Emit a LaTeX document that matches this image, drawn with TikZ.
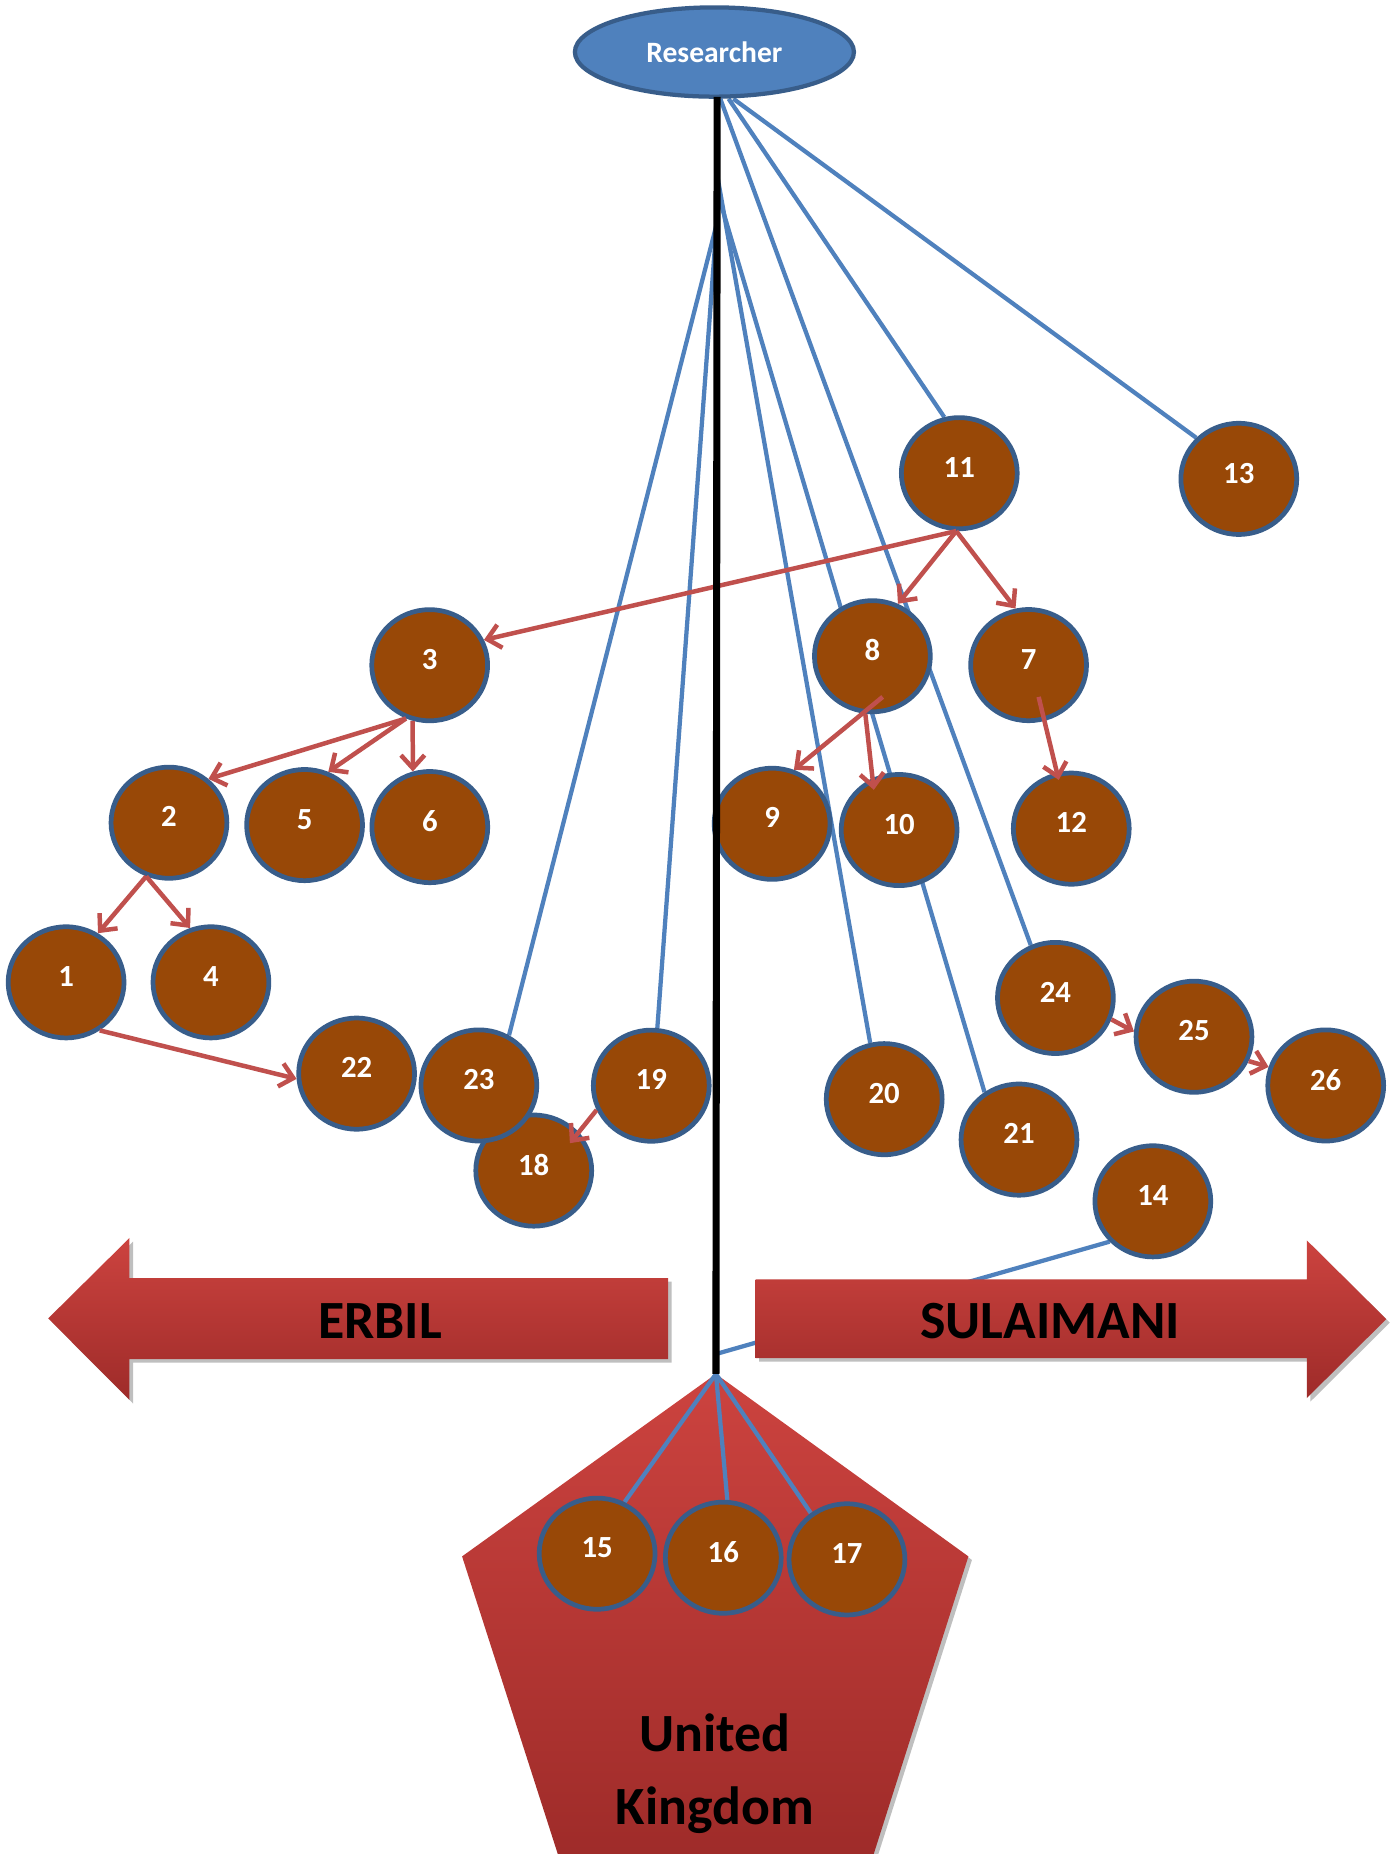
\documentclass[tikz,border=0pt]{standalone}
\usepackage{fontspec}
\setmainfont{Carlito}
\usetikzlibrary{arrows.meta,calc,shapes.geometric,shadows}
\definecolor{nodefill}{HTML}{984807}
\definecolor{nodeedge}{HTML}{385D8A}
\definecolor{bline}{HTML}{4F81BD}
\definecolor{rline}{HTML}{C0504D}
\definecolor{redtop}{HTML}{CC433F}
\definecolor{redbot}{HTML}{9E2B29}
\pgfdeclarelayer{lone}
\pgfdeclarelayer{ltwo}
\pgfdeclarelayer{lthree}
\pgfdeclarelayer{front}
\pgfsetlayers{lone,ltwo,lthree,main,front}
\begin{document}
\begin{tikzpicture}[x=1pt,y=-1pt,
  person/.style={ellipse, draw=nodeedge, fill=nodefill, line width=4pt,
    minimum width=98pt, minimum height=94pt, inner sep=0pt, text=white,
    font=\fontsize{26}{26}\selectfont\bfseries, text depth=10pt},
  link/.style={draw=bline, line width=3.6pt},
  refer/.style={draw=rline, line width=3.8pt, -{Straight Barb[length=11pt,width=20pt]}},
  place/.style={font=\fontsize{45.5}{62}\selectfont\bfseries, text=black, inner sep=0pt},
  region/.style={top color=redtop, bottom color=redbot,
    drop shadow={shadow xshift=3pt, shadow yshift=-3pt, opacity=0.25, fill=black}},
  ]
\useasboundingbox (0,0) rectangle (1183,1568);

% root
\node[ellipse, draw=nodeedge, fill=bline, line width=3.6pt, minimum width=236pt,
  minimum height=75.5pt, inner sep=0pt, text=white,
  font=\fontsize{25}{25}\selectfont\bfseries] (R) at (604.2,44) {Researcher};

% participants
\node[person] (n1)  at (55.9,830.8)   {1};
\node[person] (n2)  at (142.9,695.8)  {2};
\node[person] (n3)  at (363.4,562.6)  {3};
\node[person] (n4)  at (178.4,830.8)  {4};
\node[person] (n5)  at (257.6,697.8)  {5};
\node[person] (n6)  at (363.5,699.5)  {6};
\node[person] (n7)  at (869.9,562.5)  {7};
\node[person] (n8)  at (737.8,555)    {8};
\node[person] (n9)  at (653,696.7)    {9};
\node[person] (n10) at (760.4,702)    {10};
\node[person] (n11) at (811.3,400.2)  {11};
\node[person] (n12) at (906,700.8)    {12};
\node[person] (n13) at (1047.7,405)   {13};
\node[person] (n14) at (975,1016)     {14};
\node[person] (n15) at (505,1314)     {15};
\node[person] (n16) at (611.7,1317.4) {16};
\node[person] (n17) at (716.3,1318.8) {17};
\node[person] (n18) at (451.4,990)    {18};
\node[person] (n19) at (550.8,918.2)  {19};
\node[person] (n20) at (747.8,929.6)  {20};
\node[person] (n21) at (861.8,963.8)  {21};
\node[person] (n22) at (301.6,908)    {22};
\node[person] (n23) at (405,918)      {23};
\node[person] (n24) at (892.6,844)    {24};
\node[person] (n25) at (1009.8,876.8) {25};
\node[person] (n26) at (1121.2,918)   {26};

% trunk coordinates
\coordinate (top)  at (606.5,82);
\coordinate (apex) at (605.5,1162);
\coordinate (s23)  at (606,190);
\coordinate (s20)  at (606,145);
\coordinate (s21)  at (606,160);
\coordinate (j14)  at (606,1145);

% city labels
\node[place] (erbil) at (321.5,1117.5) {ERBIL};
\node[place] (sul)   at (888,1117.5)   {SULAIMANI};
\node[place, align=center] (uk) at (604.5,1500) {United\\Kingdom};

\begin{pgfonlayer}{lone}
  \fill[white] (0,0) rectangle (1183,1568);
  \draw[link] (n14.223) -- (j14);
\end{pgfonlayer}

\begin{pgfonlayer}{ltwo}
  \shade[region] (40.8,1115) -- (109.5,1047) -- (109.5,1081) -- (565,1081)
    -- (565,1149.4) -- (109.5,1149.4) -- (109.5,1184) -- cycle;
  \shade[region] (639,1082) -- (1105.2,1082) -- (1105.2,1049) -- (1172.4,1115.6)
    -- (1105.2,1182.4) -- (1105.2,1148.6) -- (639,1148.6) -- cycle;
  \shade[region] (apex) -- (819,1316.3) -- (736.7,1575) -- (474,1575)
    -- (390.8,1316.3) -- cycle;
\end{pgfonlayer}

\begin{pgfonlayer}{lthree}
  \draw[link] ($(R.south)+(5,0)$)  -- (n24.115);
  \draw[link] ($(R.south)+(12,0)$) -- (n11.105);
  \draw[link] ($(R.south)+(16,0)$) -- (n13.136);
  \draw[link] (s23) -- (n23.59);
  \draw[link] (s23) -- (n19.84);
  \draw[link] (s20) -- (n20.104);
  \draw[link] (s21) -- (n21.126);
  \draw[link] (apex) -- (n15.62);
  \draw[link] (apex) -- (n16.86);
  \draw[link] (apex) -- (n17.128);
\end{pgfonlayer}

\begin{pgfonlayer}{front}
  \draw[refer] (n11.267) -- (n3.25);
  \draw[refer] (n11.267) -- (n8.64);
  \draw[refer] (n11.267) -- (n7.103);
  \draw[refer] (n3.246) -- (n2.48);
  \draw[refer] (n3.246) -- (n5.66);
  \draw[refer] (n3.253) -- (n6.107);
  \draw[refer] (n2.247) -- (n1.57);
  \draw[refer] (n2.247) -- (n4.111);
  \draw[refer] (n1.305) -- (n22.185);
  \draw[refer] ($(n8)+(8.7,34.4)$) -- (n9.68);
  \draw[refer] (n8.263) -- ($(n10)+(-21.4,-34)$);
  \draw[refer] ($(n7)+(8.5,26.9)$) -- ($(n12)+(-10.6,-41.2)$);
  \draw[refer] (n24.339) -- (n25.175);
  \draw[refer] (n25.336) -- (n26.162);
  \draw[refer] (n19.204) -- ($(n18)+(30.6,-23.2)$);
  \draw[line width=6pt, black] (top) -- (apex);
\end{pgfonlayer}
\end{tikzpicture}
\end{document}
